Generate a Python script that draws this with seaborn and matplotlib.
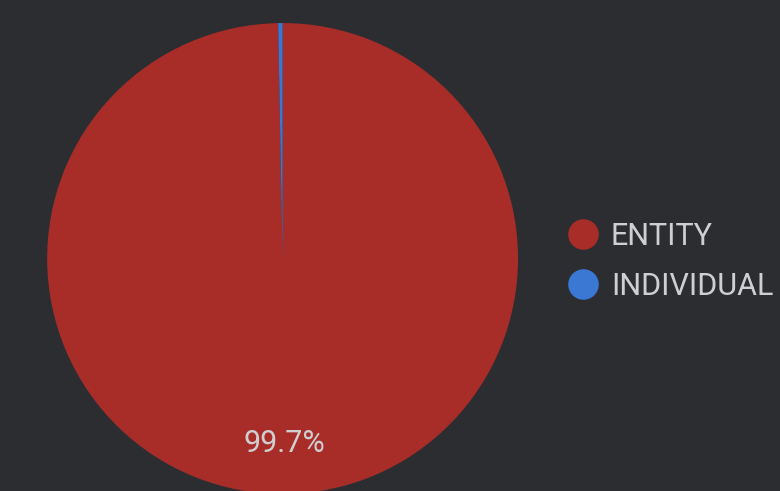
import matplotlib
matplotlib.use("Agg")
import matplotlib.pyplot as plt
from matplotlib.lines import Line2D
import seaborn as sns

# Data
categories = ["ENTITY", "INDIVIDUAL"]
shares = [99.7, 0.3]
slice_colors = ["#a82d28", "#3a78d4"]

bg = "#2c2d31"
text_color = "#cfcfd2"

sns.set_theme(style="dark", rc={"figure.facecolor": bg, "axes.facecolor": bg})
plt.rcParams["font.family"] = ["Roboto", "DejaVu Sans"]

fig = plt.figure(figsize=(7.8, 4.91), dpi=100)
ax = fig.add_axes([0.0603, -0.006, 0.604, 0.959])

palette = sns.color_palette(slice_colors)


def show_pct(p):
    # small slices get no label
    return f"{p:.1f}%" if p >= 1 else ""


wedges, _, autotexts = ax.pie(
    shares,
    colors=palette,
    startangle=90,
    counterclock=False,
    autopct=show_pct,
    pctdistance=0.785,
    wedgeprops={"linewidth": 0},
    textprops={"color": text_color, "fontsize": 22},
)
ax.set_xlim(-1, 1)
ax.set_ylim(-1, 1)
ax.set_aspect("equal")
ax.axis("off")

handles = [
    Line2D([], [], marker="o", linestyle="", markersize=22,
           markerfacecolor=c, markeredgewidth=0)
    for c in palette
]
fig.legend(
    handles,
    categories,
    loc="center left",
    bbox_to_anchor=(0.693, 0.468),
    frameon=False,
    fontsize=22,
    labelcolor=text_color,
    handletextpad=0.4,
    labelspacing=0.68,
    handlelength=1.0,
)

fig.savefig("out.png", dpi=100, facecolor=bg)
